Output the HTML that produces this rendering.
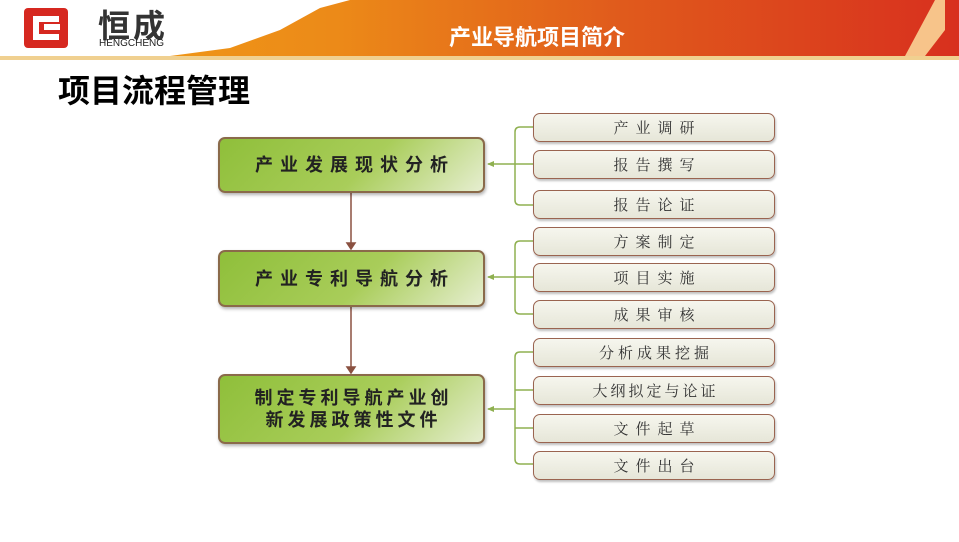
<!DOCTYPE html>
<html><head><meta charset="utf-8"><style>
*{margin:0;padding:0;box-sizing:border-box}
body{width:959px;height:542px;overflow:hidden;background:#fff;position:relative;font-family:"Liberation Sans","Noto Sans CJK SC",sans-serif}
.abs{position:absolute}
.g{position:absolute;left:218px;width:267px;border:2px solid #8a6a4a;border-radius:7px;background:linear-gradient(135deg,#8fbf3a 0%,#a9cd5a 55%,#e6eed0 100%);display:flex;align-items:center;justify-content:center;text-align:center;font-weight:bold;font-size:18px;color:#222;letter-spacing:7px;line-height:22px;box-shadow:1px 2px 3px rgba(0,0,0,.3);padding-left:7px}
.r{position:absolute;left:533px;width:242px;height:29px;border:1.5px solid #9a6450;border-radius:7px;background:linear-gradient(#f6f6ee,#e6e6d8);display:flex;align-items:center;justify-content:center;font-family:"Noto Serif CJK SC",serif;font-size:15px;color:#333;letter-spacing:7px;padding-left:7px;box-shadow:1px 2px 2px rgba(0,0,0,.25)}
</style></head><body>
<div class="abs" style="left:0;top:0;width:959px;height:56px;background:linear-gradient(90deg,#f2a015 0%,#ec8a18 35%,#e05a1c 65%,#d8301e 100%);clip-path:polygon(350px 0,959px 0,959px 56px,170px 56px,230px 48px,280px 30px,320px 8px)"></div>
<div class="abs" style="left:0;top:56px;width:959px;height:4px;background:#f0d090"></div>
<div class="abs" style="left:905px;top:0;width:40px;height:56px;background:#f7c48a;clip-path:polygon(30px 0,40px 0,40px 30px,20px 56px,0 56px)"></div>
<div class="abs" style="left:24px;top:8px;width:44px;height:40px;background:#d62820;border-radius:4px"></div>
<div class="abs" style="left:33px;top:16px;width:26px;height:24px;border:6px solid #fff;border-right:none"></div>
<div class="abs" style="left:44px;top:24px;width:16px;height:6px;background:#fff"></div>
<div class="abs" style="left:98px;top:1px;font-size:32px;font-weight:bold;color:#333;letter-spacing:3px">恒成</div>
<div class="abs" style="left:99px;top:38px;font-size:10px;color:#222">HENGCHENG</div>
<div class="abs" style="left:449px;top:20px;font-size:22px;font-weight:bold;color:#fff">产业导航项目简介</div>
<div class="abs" style="left:58px;top:66px;font-size:32px;font-weight:bold;color:#000">项目流程管理</div>
<svg class="abs" style="left:0;top:0" width="959" height="542">
<g stroke="#8a5040" stroke-width="1.5" fill="#8a5040">
<line x1="351" y1="193" x2="351" y2="244"/><polygon points="347,243 355,243 351,249"/>
<line x1="351" y1="307" x2="351" y2="368"/><polygon points="347,367 355,367 351,373"/>
</g>
<g stroke="#8fb050" stroke-width="1.5" fill="none">
<path d="M533,127 H520 Q515,127 515,132 V200 Q515,205 520,205 H533"/>
<path d="M533,164 H488"/>
<path d="M533,241 H520 Q515,241 515,246 V309 Q515,314 520,314 H533"/>
<path d="M533,277 H488"/>
<path d="M533,352 H520 Q515,352 515,357 V459 Q515,464 520,464 H533"/>
<path d="M533,390 H515 M533,428 H515 M515,409 H488"/>
</g>
<g fill="#8fb050"><polygon points="487,164 494,161 494,167"/><polygon points="487,277 494,274 494,280"/><polygon points="487,409 494,406 494,412"/></g>
</svg>
<div class="g" style="top:137px;height:56px">产业发展现状分析</div>
<div class="g" style="top:250px;height:57px">产业专利导航分析</div>
<div class="g" style="top:374px;height:70px;letter-spacing:4px;padding-left:4px">制定专利导航产业创<br>新发展政策性文件</div>
<div class="r" style="top:113px">产业调研</div>
<div class="r" style="top:150px">报告撰写</div>
<div class="r" style="top:190px">报告论证</div>
<div class="r" style="top:227px">方案制定</div>
<div class="r" style="top:263px">项目实施</div>
<div class="r" style="top:300px">成果审核</div>
<div class="r" style="top:338px;letter-spacing:4px;padding-left:4px">分析成果挖掘</div>
<div class="r" style="top:376px;letter-spacing:3px;padding-left:3px">大纲拟定与论证</div>
<div class="r" style="top:414px">文件起草</div>
<div class="r" style="top:451px">文件出台</div>
</body></html>
